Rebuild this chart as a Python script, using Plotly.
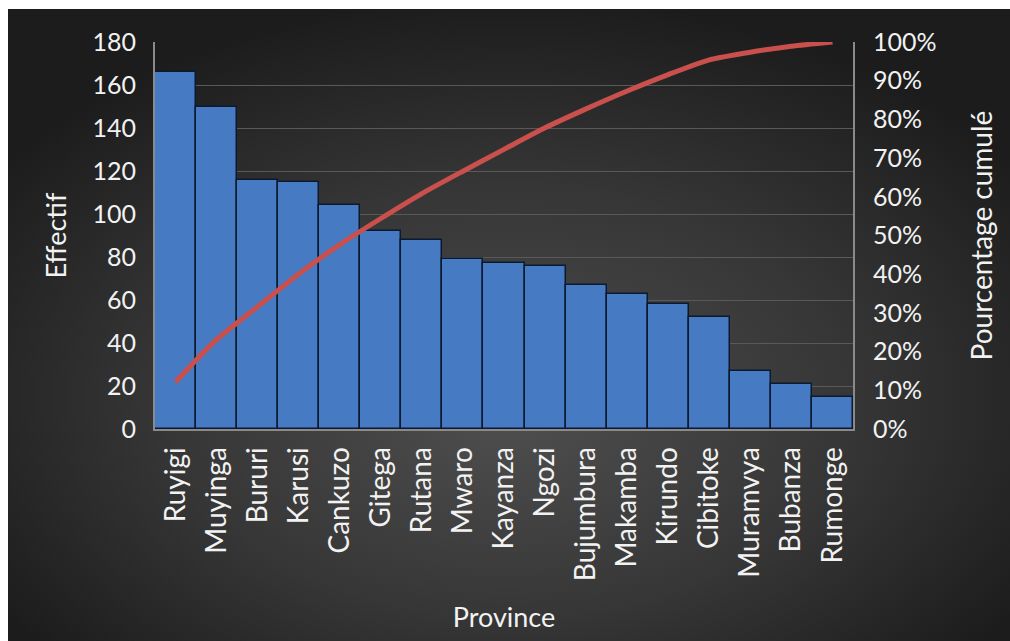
import base64
import plotly.graph_objects as go

provinces = ["Ruyigi", "Muyinga", "Bururi", "Karusi", "Cankuzo", "Gitega", "Rutana",
             "Mwaro", "Kayanza", "Ngozi", "Bujumbura", "Makamba", "Kirundo", "Cibitoke",
             "Muramvya", "Bubanza", "Rumonge"]
effectif = [166, 150, 116, 115, 104, 92, 88, 79, 77, 76, 67, 63, 58, 52, 27, 21, 15]

total = sum(effectif)
cumul = []
running = 0
for v in effectif:
    running += v
    cumul.append(running / total)

left_ticks = list(range(0, 181, 20))

FONT = "Lato"
TXT = "#f2f2f2"

svg = """<svg xmlns='http://www.w3.org/2000/svg' width='1002' height='632' viewBox='0 0 1002 632' preserveAspectRatio='none'>
<defs><radialGradient id='g' cx='50%' cy='60%' r='62%' fx='50%' fy='65%'>
<stop offset='0%' stop-color='#4e4e4e'/><stop offset='55%' stop-color='#363636'/><stop offset='100%' stop-color='#1c1c1c'/>
</radialGradient></defs><rect width='1002' height='632' fill='url(#g)'/></svg>"""
src = "data:image/svg+xml;base64," + base64.b64encode(svg.encode()).decode()

fig = go.Figure()
fig.add_trace(go.Bar(
    x=provinces, y=effectif, yaxis="y",
    marker=dict(color="#467ac2", line=dict(color="#0b1a30", width=1.5)),
    showlegend=False, hoverinfo="x+y",
))
fig.add_trace(go.Scatter(
    x=provinces, y=cumul, yaxis="y2", mode="lines",
    line=dict(color="#c9504c", width=5, shape="spline", smoothing=0.6),
    showlegend=False,
))

W, H = 1010, 641
L, R, T, B = 155, 157, 42, 212
pw, ph = W - L - R, H - T - B

fig.update_layout(
    width=W, height=H,
    margin=dict(l=L, r=R, t=T, b=B, pad=0),
    paper_bgcolor="white", plot_bgcolor="rgba(0,0,0,0)",
    bargap=0,
    font=dict(family=FONT, color=TXT, size=25),
    images=[dict(source=src, xref="paper", yref="paper",
                 x=(8 - L) / pw, y=1 + (T - 9) / ph,
                 sizex=(W - 8) / pw, sizey=(H - 9) / ph,
                 xanchor="left", yanchor="top", sizing="stretch", layer="below")],
    xaxis=dict(
        tickangle=-90, tickfont=dict(size=28, color=TXT, family=FONT),
        showline=True, linecolor="#8a8a8a", linewidth=2,
        showgrid=False, ticks="", ticklabelstandoff=5,
        title=dict(text="Province", font=dict(size=27, color=TXT, family=FONT), standoff=28),
    ),
    yaxis=dict(
        range=[0, 180], tickvals=left_ticks,
        tickfont=dict(size=25, color=TXT, family=FONT),
        showline=True, linecolor="#8a8a8a", linewidth=2,
        showgrid=True, gridcolor="#595959", gridwidth=1, zeroline=False,
        ticks="", ticklabelstandoff=12,
        title=dict(text="Effectif", font=dict(size=27, color=TXT, family=FONT), standoff=18),
    ),
    yaxis2=dict(
        overlaying="y", side="right", range=[0, 1], dtick=0.1, tickformat=".0%",
        tickfont=dict(size=25, color=TXT, family=FONT),
        showline=True, linecolor="#8a8a8a", linewidth=2,
        showgrid=False, zeroline=False, ticks="", ticklabelstandoff=13,
        title=dict(text="Pourcentage cumulé", font=dict(size=28, color=TXT, family=FONT), standoff=37),
    ),
)

fig.write_html("out.html")
